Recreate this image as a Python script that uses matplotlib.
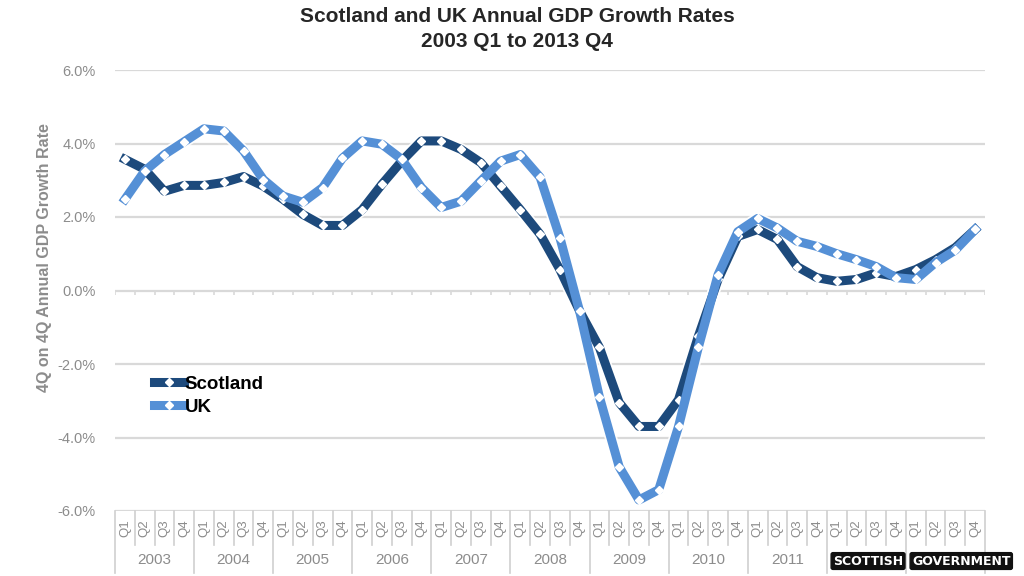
import matplotlib
matplotlib.use("Agg")
import matplotlib.pyplot as plt
import matplotlib.transforms as mtransforms

plt.rcParams['font.family'] = ['Liberation Sans', 'DejaVu Sans']

years = ['2003', '2004', '2005', '2006', '2007', '2008', '2009', '2010', '2011']
quarters = ['Q1', 'Q2', 'Q3', 'Q4']

scotland = [3.57, 3.30, 2.70, 2.86,
            2.86, 2.94, 3.10, 2.84,
            2.48, 2.07, 1.77, 1.77,
            2.20, 2.89, 3.52, 4.07,
            4.07, 3.84, 3.48, 2.84,
            2.20, 1.53, 0.57, -0.56,
            -1.55, -3.05, -3.70, -3.70,
            -2.97, -1.25, 0.30, 1.47,
            1.66, 1.39, 0.65, 0.35,
            0.25, 0.30, 0.48, 0.38,
            0.57, 0.84, 1.17, 1.66]

uk = [2.48, 3.25, 3.70, 4.05,
      4.40, 4.34, 3.80, 3.02,
      2.57, 2.40, 2.80, 3.60,
      4.07, 3.98, 3.57, 2.80,
      2.26, 2.43, 2.98, 3.52,
      3.70, 3.08, 1.44, -0.57,
      -2.90, -4.80, -5.70, -5.42,
      -3.70, -1.55, 0.43, 1.60,
      1.96, 1.70, 1.34, 1.20,
      1.00, 0.84, 0.65, 0.35,
      0.30, 0.76, 1.10, 1.66]

yticks = [-6, -4, -2, 0, 2, 4, 6]

dark = '#1d4a7c'
light = '#5590d6'
grey = '#8c8c8c'

fig = plt.figure(figsize=(10.24, 5.76), dpi=100)
ax = fig.add_axes([115/1024, 1-511/576, 870/1024, 441/576])

n = len(scotland)
x = list(range(n))

for yv in yticks:
    ax.axhline(yv, color='#d9d9d9', lw=1.6, zorder=1)

for series, col, lab in [(scotland, dark, 'Scotland'), (uk, light, 'UK')]:
    ax.plot(x, series, color='white', lw=9, zorder=2, solid_capstyle='round', alpha=0.9)
    ax.plot(x, series, color=col, lw=6.5, zorder=3, marker='D', markersize=4.5,
            markerfacecolor='white', markeredgecolor='white', label=lab,
            solid_joinstyle='round')

ax.set_xlim(-0.5, n - 0.5)
ax.set_ylim(-6, 6)
ax.set_yticks(yticks)
ax.set_yticklabels([f'{v:.1f}%' for v in yticks], color=grey, fontsize=10.5)
ax.tick_params(axis='y', length=0, pad=14)
ax.set_xticks([])
for s in ax.spines.values():
    s.set_visible(False)

# small ticks on zero line
ax.vlines([i - 0.5 for i in range(n + 1)], -0.12, 0, color='#d9d9d9', lw=1.2, zorder=1)

ax.set_ylabel('4Q on 4Q Annual GDP Growth Rate', color=grey, fontsize=11.5,
              fontweight='bold')
ax.yaxis.set_label_coords(-0.072, 0.574)

# category axis (two-level)
tr = mtransforms.blended_transform_factory(ax.transData, ax.transAxes)
for i in range(n + 1):
    bottom = -0.14 if i % 4 == 0 else -0.078
    ax.plot([i - 0.5, i - 0.5], [0, bottom], color='#cfcfcf', lw=1.2,
            transform=tr, clip_on=False)
for i in range(n):
    ax.text(i, -0.038, quarters[i % 4], rotation=90, ha='center', va='center',
            color=grey, fontsize=9.5, transform=tr)
for k, yr in enumerate(years):
    ax.text(4 * k + 1.5, -0.111, yr, ha='center', va='center', color=grey,
            fontsize=11, transform=tr)

leg = ax.legend(loc='upper left', bbox_to_anchor=(0.025, 0.345), frameon=False,
                handlelength=1.6, handletextpad=0.05, labelspacing=0.3,
                prop={'weight': 'bold', 'size': 13.5}, numpoints=1)

fig.text(0.505, 0.972, 'Scotland and UK Annual GDP Growth Rates', ha='center', va='center',
         fontsize=15, fontweight='bold', color='#262626')
fig.text(0.505, 0.928, '2003 Q1 to 2013 Q4', ha='center', va='center',
         fontsize=15, fontweight='bold', color='#262626')

fig.text(833/1024, 0.026, 'SCOTTISH', ha='left', va='center', fontsize=9,
         fontweight='bold', color='white', family='DejaVu Sans',
         bbox=dict(boxstyle='round,pad=0.15', fc='#111111', ec='#111111'))
fig.text(912/1024, 0.026, 'GOVERNMENT', ha='left', va='center', fontsize=9,
         fontweight='bold', color='white', family='DejaVu Sans',
         bbox=dict(boxstyle='round,pad=0.15', fc='#111111', ec='#111111'))

fig.savefig('out.png', dpi=100)
